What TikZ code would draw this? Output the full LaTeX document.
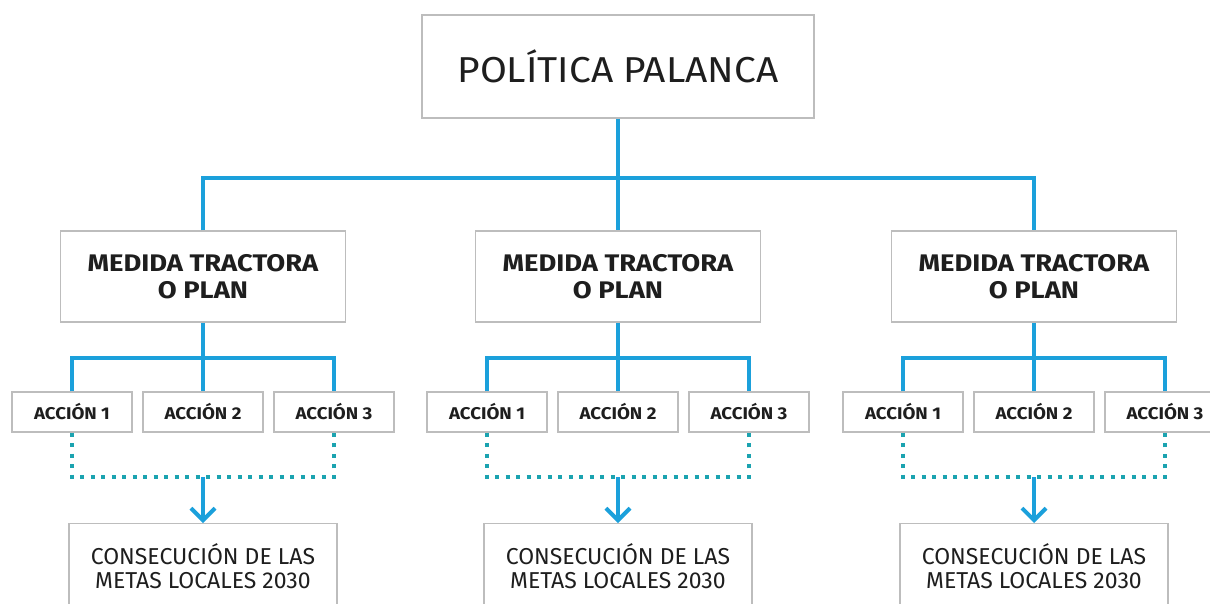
\documentclass[tikz,border=0pt]{standalone}
\usepackage{fontspec}
\setmainfont{Fira Sans}
\newfontfamily\topfont[FakeStretch=1.08]{Fira Sans}
\newfontfamily\midfont[FakeStretch=1.14]{Fira Sans}
\newfontfamily\actfont[FakeStretch=1.1]{Fira Sans}
\usetikzlibrary{arrows.meta}
\definecolor{lineblue}{HTML}{1BA0DB}
\definecolor{dotteal}{HTML}{1BA3B0}
\definecolor{boxgrey}{HTML}{BDBDBD}
\definecolor{ink}{HTML}{1E1E1E}
\tikzset{
  box/.style={draw=boxgrey, line width=1.3pt, fill=white, inner sep=0pt, align=center, text=ink},
  topbox/.style={box, minimum width=392pt, minimum height=103pt, font=\topfont\fontsize{36}{40}\selectfont},
  midbox/.style={box, minimum width=285pt, minimum height=91pt, font=\midfont\bfseries\fontsize{24}{27}\selectfont},
  actbox/.style={box, minimum width=120pt, minimum height=40pt, font=\actfont\bfseries\fontsize{17}{20}\selectfont},
  goalbox/.style={box, minimum width=268pt, minimum height=85pt, font=\fontsize{23}{24}\selectfont},
  tree/.style={draw=lineblue, line width=4pt},
  dots/.style={draw=dotteal, line width=4pt, dash pattern=on 4pt off 6.5pt},
  goalarrow/.style={draw=lineblue, line width=4pt, -{Straight Barb[length=12pt,width=24pt,line width=4pt]}}
}
\begin{document}
\begin{tikzpicture}[x=1pt,y=-1pt]
\useasboundingbox (0,0) rectangle (1210,603);
\node[topbox] (top) at (618,66.5) {POLÍTICA PALANCA};
\coordinate (hub) at (618,178);
\foreach \i/\gx in {1/203,2/618,3/1034}{
  \node[midbox] (m\i) at (\gx,276.5) {MEDIDA TRACTORA\\O PLAN};
  \node[actbox] (a\i1) at (\gx-131,412) {ACCIÓN 1};
  \node[actbox] (a\i2) at (\gx,412) {ACCIÓN 2};
  \node[actbox] (a\i3) at (\gx+131,412) {ACCIÓN 3};
  \node[goalbox, anchor=north] (g\i) at (\gx,523) {CONSECUCIÓN DE LAS\\METAS LOCALES 2030};
  \coordinate (h\i) at (\gx,358);
  \coordinate (d\i) at (\gx,477);
  \draw[tree] (m\i.south) -- (h\i);
  \draw[tree] (a\i1.north) |- (h\i) -| (a\i3.north);
  \draw[tree] (h\i) -- (a\i2.north);
  \draw[dots] (a\i1.south) |- (d\i) -| (a\i3.south);
  \draw[goalarrow] (d\i) -- (g\i.north);
}
\draw[tree] (top.south) -- (hub);
\draw[tree] (m1.north) |- (hub) -| (m3.north);
\draw[tree] (hub) -- (m2.north);
\end{tikzpicture}
\end{document}
